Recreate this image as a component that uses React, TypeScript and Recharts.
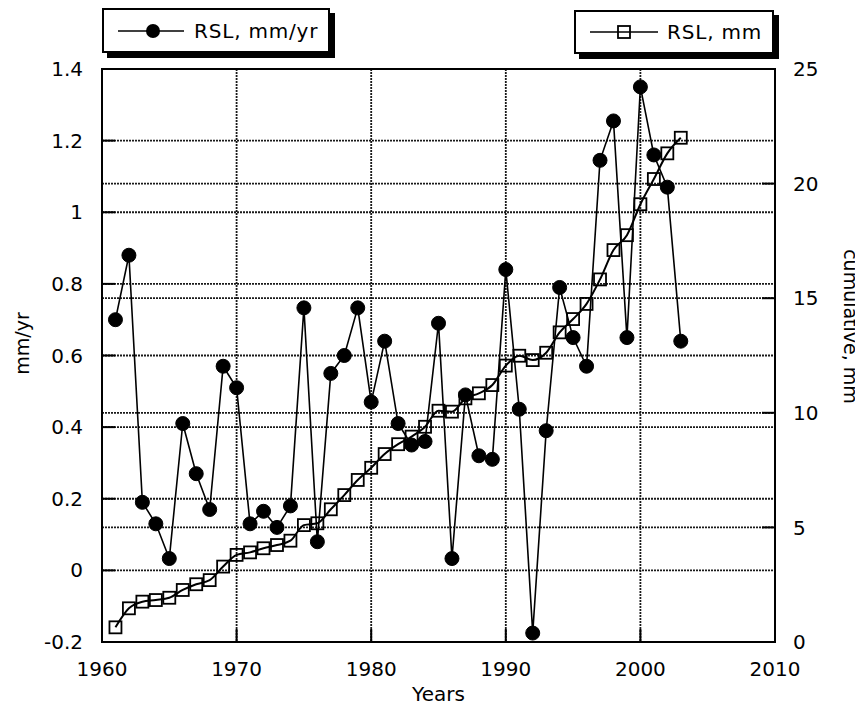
import React from 'react';
import {
  CartesianGrid,
  Label,
  Line,
  LineChart,
  ReferenceArea,
  XAxis,
  YAxis
} from 'recharts';

const years = [
  1961, 1962, 1963, 1964, 1965, 1966, 1967, 1968, 1969, 1970, 1971, 1972, 1973,
  1974, 1975, 1976, 1977, 1978, 1979, 1980, 1981, 1982, 1983, 1984, 1985, 1986,
  1987, 1988, 1989, 1990, 1991, 1992, 1993, 1994, 1995, 1996, 1997, 1998, 1999,
  2000, 2001, 2002, 2003
];

// RSL, mm/yr (left axis)
const rslRate = [
  0.7, 0.88, 0.19, 0.13, 0.033, 0.41, 0.27, 0.17, 0.57, 0.51, 0.13, 0.165, 0.12,
  0.18, 0.733, 0.08, 0.55, 0.6, 0.733, 0.47, 0.64, 0.41, 0.35, 0.36, 0.69, 0.033,
  0.49, 0.32, 0.31, 0.84, 0.45, -0.175, 0.39, 0.79, 0.65, 0.57, 1.145, 1.255,
  0.65, 1.35, 1.16, 1.07, 0.64
];

// RSL, mm cumulative (right axis)
const rslCumulative = [
  0.64, 1.47, 1.76, 1.83, 1.93, 2.27, 2.52, 2.7, 3.29, 3.8, 3.91, 4.09, 4.23,
  4.42, 5.1, 5.18, 5.79, 6.41, 7.07, 7.6, 8.2, 8.63, 8.96, 9.39, 10.09, 10.05,
  10.63, 10.85, 11.21, 12.06, 12.49, 12.3, 12.62, 13.51, 14.09, 14.75, 15.82,
  17.1, 17.75, 19.1, 20.2, 21.32, 22.0
];

const yearTicks = [1960, 1970, 1980, 1990, 2000, 2010];
const rateTicks = [-0.2, 0, 0.2, 0.4, 0.6, 0.8, 1, 1.2, 1.4];
const cumTicks = [0, 5, 10, 15, 20, 25];

const rows = years.map((year, i) => ({
  year,
  rate: rslRate[i],
  cum: rslCumulative[i]
}));

const FONT = '"DejaVu Sans", sans-serif';
const tickStyle = { fill: '#000', fontSize: 20, fontFamily: FONT };
const lineStyle = { stroke: '#000', strokeWidth: 2 };

const SquareDot = (props: any) => {
  const { cx, cy, index } = props;
  if (cx == null || cy == null) return null;
  return (
    <rect
      key={`sq-${index}`}
      x={cx - 6}
      y={cy - 6}
      width={12}
      height={12}
      fill="none"
      stroke="#000"
      strokeWidth={1.8}
    />
  );
};

const legendBox: React.CSSProperties = {
  position: 'absolute',
  boxSizing: 'border-box',
  border: '2px solid #000',
  boxShadow: '5px 5px 0 #000',
  background: '#fff',
  display: 'flex',
  alignItems: 'center',
  fontFamily: FONT,
  fontSize: 20,
  letterSpacing: 0.8,
  color: '#000'
};

const App = () => {
  return (
    <div style={{ position: 'relative', width: 855, height: 701, marginBottom: -8 }}>
      <LineChart
        width={855}
        height={701}
        data={rows}
        margin={{ top: 61, right: 0, bottom: 0, left: 0 }}
        style={{ fontFamily: FONT }}
      >
        <CartesianGrid
          yAxisId="left"
          stroke="#1a1a1a"
          strokeWidth={1.8}
          strokeDasharray="2 1"
        />
        <CartesianGrid
          yAxisId="right"
          vertical={false}
          stroke="#1a1a1a"
          strokeWidth={1.8}
          strokeDasharray="2 1"
        />
        <XAxis
          dataKey="year"
          type="number"
          domain={[1960, 2010]}
          ticks={yearTicks}
          height={67}
          tick={tickStyle}
          tickSize={-13}
          tickMargin={33}
          axisLine={lineStyle}
          tickLine={lineStyle}
        >
          <Label
            value="Years"
            position="center"
            dy={18}
            style={{ fill: '#000', fontSize: 20, fontFamily: FONT }}
          />
        </XAxis>
        <XAxis
          xAxisId="top"
          orientation="top"
          type="number"
          domain={[1960, 2010]}
          ticks={yearTicks}
          height={0}
          tick={false}
          tickSize={-13}
          axisLine={lineStyle}
          tickLine={lineStyle}
        />
        <YAxis
          yAxisId="left"
          domain={[-0.2, 1.4]}
          ticks={rateTicks}
          width={94}
          tick={tickStyle}
          tickSize={-13}
          tickMargin={32}
          axisLine={lineStyle}
          tickLine={lineStyle}
        >
          <Label
            value="mm/yr"
            position="center"
            angle={-90}
            dx={-33}
            dy={-12}
            style={{ fill: '#000', fontSize: 19, fontFamily: FONT }}
          />
        </YAxis>
        <YAxis
          yAxisId="right"
          orientation="right"
          domain={[0, 25]}
          ticks={cumTicks}
          width={88}
          tick={{ ...tickStyle, textAnchor: 'start' }}
          tickSize={-13}
          tickMargin={31}
          axisLine={lineStyle}
          tickLine={lineStyle}
        >
          <Label
            value="cumulative, mm"
            position="center"
            angle={90}
            dx={32}
            dy={-29}
            style={{ fill: '#000', fontSize: 19, fontFamily: FONT }}
          />
        </YAxis>
        <ReferenceArea
          yAxisId="left"
          x1={1960}
          x2={2010}
          y1={-0.2}
          y2={1.4}
          fill="none"
          stroke="#000"
          strokeWidth={2}
        />
        <Line
          yAxisId="right"
          dataKey="cum"
          type="monotone"
          stroke="#000"
          strokeWidth={2}
          dot={SquareDot}
          activeDot={false}
          isAnimationActive={false}
        />
        <Line
          yAxisId="left"
          dataKey="rate"
          type="linear"
          stroke="#000"
          strokeWidth={1.6}
          dot={{ r: 7, fill: '#000', stroke: '#000', strokeWidth: 1 }}
          activeDot={false}
          isAnimationActive={false}
        />
      </LineChart>

      <div style={{ ...legendBox, left: 94, top: 0, width: 228, height: 45 }}>
        <svg width={90} height={20} style={{ flexShrink: 0 }}>
          <line x1={14} y1={10} x2={80} y2={10} stroke="#000" strokeWidth={1.6} />
          <circle cx={49} cy={10} r={7} fill="#000" />
        </svg>
        <span>RSL, mm/yr</span>
      </div>
      <div style={{ ...legendBox, left: 566, top: 2, width: 200, height: 44 }}>
        <svg width={91} height={20} style={{ flexShrink: 0 }}>
          <line x1={14} y1={10} x2={82} y2={10} stroke="#000" strokeWidth={1.6} />
          <rect x={42} y={4} width={12} height={12} fill="none" stroke="#000" strokeWidth={1.8} />
        </svg>
        <span>RSL, mm</span>
      </div>
    </div>
  );
};

export default App;
